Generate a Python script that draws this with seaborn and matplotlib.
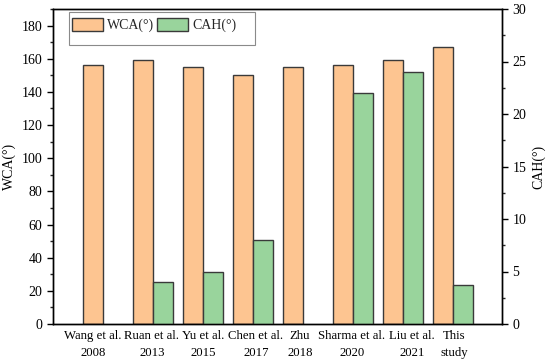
import matplotlib
matplotlib.use("Agg")
import matplotlib.pyplot as plt
import matplotlib.transforms as mtransforms
from matplotlib.ticker import MultipleLocator
from matplotlib.patches import Patch, Rectangle
import seaborn as sns
import pandas as pd

categories = ["Wang et al.\n2008", "Ruan et al.\n2013", "Yu et al.\n2015", "Chen et al.\n2017",
              "Zhu\n2018", "Sharma et al.\n2020", "Liu et al.\n2021", "This\nstudy"]
wca = [156, 159, 155, 150, 155, 156, 159, 167]
cah = [None, 4.0, 5.0, 8.0, None, 22.0, 24.0, 3.7]
series = ["WCA(°)", "CAH(°)"]
colors = ["#FDC591", "#99D49C"]

sns.set_theme(style="white")
plt.rcParams["font.family"] = ["Liberation Serif", "DejaVu Serif"]

df1 = pd.DataFrame({"cat": categories, "val": wca, "series": series[0]})
df2 = pd.DataFrame({"cat": categories, "val": cah, "series": series[1]}).dropna()

W, H = 550, 363
fig = plt.figure(figsize=(5.5, 3.63), dpi=100)
ax1 = fig.add_axes([53/W, 1-324/H, (502-53)/W, (324-9)/H])
ax2 = ax1.twinx()

palette = dict(zip(series, colors))
common = dict(x="cat", y="val", hue="series", hue_order=series, order=categories,
              palette=palette, width=0.8, dodge=True, saturation=1,
              edgecolor="#3a3a3a", linewidth=1.0, legend=False, errorbar=None)
sns.barplot(data=df1, ax=ax1, **common)
sns.barplot(data=df2, ax=ax2, **common)

ax1.set_xlim(-1, 7.98)
ax1.set_ylim(0, 190)
ax2.set_ylim(0, 30)
ax1.yaxis.set_major_locator(MultipleLocator(20))
ax1.yaxis.set_minor_locator(MultipleLocator(10))
ax2.yaxis.set_major_locator(MultipleLocator(5))
ax2.yaxis.set_minor_locator(MultipleLocator(2.5))

for ax in (ax1, ax2):
    for s in ax.spines.values():
        s.set_color("black")
        s.set_linewidth(1.0)
    ax.set_xlabel("")

ax1.set_ylabel("WCA(°)", fontsize=10, color="black")
ax2.set_ylabel("CAH(°)", fontsize=10, color="black")
ax1.tick_params(axis="y", which="major", direction="out", length=4, width=1, labelsize=10,
                left=True, colors="black")
ax1.tick_params(axis="y", which="minor", direction="out", length=2, width=1, left=True)
ax2.tick_params(axis="y", which="major", direction="out", length=4, width=1, labelsize=10,
                right=True, colors="black")
ax2.tick_params(axis="y", which="minor", direction="out", length=2, width=1, right=True)
ax1.tick_params(axis="x", length=0, labelsize=9.2, colors="black", pad=4)
ax1.set_xticks(range(len(categories)))
ax1.set_xticklabels(categories, linespacing=1.55)

# small horizontal nudges of some tick labels, as in the reference
label_shift_px = [-10, -1, 0, 3, -3, -1, 9, 1]
for lab, dx in zip(ax1.get_xticklabels(), label_shift_px):
    if dx:
        lab.set_transform(lab.get_transform() +
                          mtransforms.ScaledTranslation(dx / 100, 0, fig.dpi_scale_trans))

handles = [Patch(facecolor=c, edgecolor="#3a3a3a", linewidth=1.0, label=s) for s, c in zip(series, colors)]
leg = ax2.legend(handles=handles, ncol=2, loc="upper left",
                 bbox_to_anchor=(72/W, 1-18/H), bbox_transform=fig.transFigure,
                 fontsize=10, frameon=False,
                 handlelength=2.23, handleheight=1.08, columnspacing=0.22, handletextpad=0.29,
                 borderpad=0.0, borderaxespad=0.0)
fig.add_artist(Rectangle((69/W, 1-45/H), 186/W, 33/H, transform=fig.transFigure,
                         fill=False, edgecolor="#8a8a8a", linewidth=0.8))

fig.savefig("out.png", dpi=100)
